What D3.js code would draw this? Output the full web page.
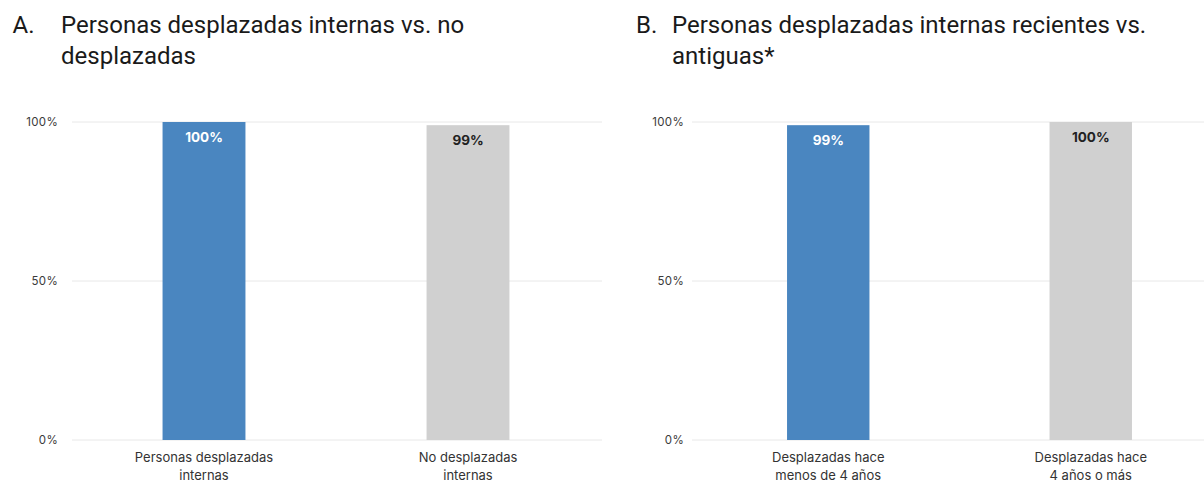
<!DOCTYPE html>
<html><head><meta charset="utf-8">
<script src="https://cdn.jsdelivr.net/npm/d3@7"></script>
<style>
body{margin:0;background:#fff;}
svg{display:block;}
</style></head>
<body>
<svg id="c" width="1204" height="484"></svg>
<script>
const titlesA = ["Personas desplazadas internas vs. no", "desplazadas"];
const titlesB = ["Personas desplazadas internas recientes vs.", "antiguas*"];
const categoriesA = [["Personas desplazadas", "internas"], ["No desplazadas", "internas"]];
const categoriesB = [["Desplazadas hace", "menos de 4 años"], ["Desplazadas hace", "4 años o más"]];
const valuesA = [100, 99];
const valuesB = [99, 100];
const yTicks = [0, 50, 100];
const barColors = ["#4a86c0", "#d0d0d0"];
const labelColors = ["#ffffff", "#222222"];

const svg = d3.select("#c");
const titleFont = "Roboto, 'Liberation Sans', sans-serif";
const chartFont = "Inter, 'DejaVu Sans', sans-serif";

function panel(letter, letterX, textX, titles, cats, vals, gx0, gx1, rx0, rx1, tickRight) {
  const g = svg.append("g");
  titles.forEach((t, i) => {
    g.append("text").attr("x", textX).attr("y", 33 + i * 31)
      .attr("font-family", titleFont).attr("font-size", 24).attr("fill", "#1a1a1a").text(t);
  });
  g.append("text").attr("x", letterX).attr("y", 33)
    .attr("font-family", titleFont).attr("font-size", 24).attr("fill", "#1a1a1a").text(letter);

  const x = d3.scaleBand().domain(d3.range(vals.length)).range([rx0, rx1])
    .paddingInner(0.686).paddingOuter(0.343);
  const y = d3.scaleLinear().domain([0, 100]).range([440, 122]);

  const grid = g.append("g");
  grid.selectAll("line").data(yTicks).join("line")
    .attr("x1", gx0).attr("x2", gx1)
    .attr("y1", d => y(d)).attr("y2", d => y(d))
    .attr("stroke", "#e8e8e8").attr("stroke-width", 1);

  const axis = d3.axisLeft(y).tickValues(yTicks).tickFormat(d => d + "%").tickSize(0).tickPadding(0);
  const ag = g.append("g").attr("transform", `translate(${tickRight},0)`).call(axis);
  ag.select(".domain").remove();
  ag.selectAll("text").attr("font-family", chartFont).attr("font-size", 11.5)
    .attr("letter-spacing", "0.3px").attr("fill", "#3a3a3a");

  g.selectAll("rect.bar").data(vals).join("rect").attr("class", "bar")
    .attr("x", (d, i) => x(i)).attr("width", x.bandwidth())
    .attr("y", d => y(d)).attr("height", d => y(0) - y(d))
    .attr("fill", (d, i) => barColors[i]);

  g.selectAll("text.val").data(vals).join("text").attr("class", "val")
    .attr("x", (d, i) => x(i) + x.bandwidth() / 2).attr("y", d => y(d) + 19.5)
    .attr("text-anchor", "middle").attr("font-family", chartFont)
    .attr("font-size", 13.5).attr("font-weight", 700)
    .attr("fill", (d, i) => labelColors[i]).text(d => d + "%");

  cats.forEach((lines, i) => {
    lines.forEach((l, j) => {
      g.append("text").attr("x", x(i) + x.bandwidth() / 2).attr("y", 462 + j * 18)
        .attr("text-anchor", "middle").attr("font-family", chartFont)
        .attr("font-size", 13).attr("fill", "#333").text(l);
    });
  });
}

panel("A.", 12.5, 61, titlesA, categoriesA, valuesA, 72, 602, 72, 600, 58);
panel("B.", 636, 672, titlesB, categoriesB, valuesB, 692, 1204, 697, 1222, 684);
</script>
</body></html>
